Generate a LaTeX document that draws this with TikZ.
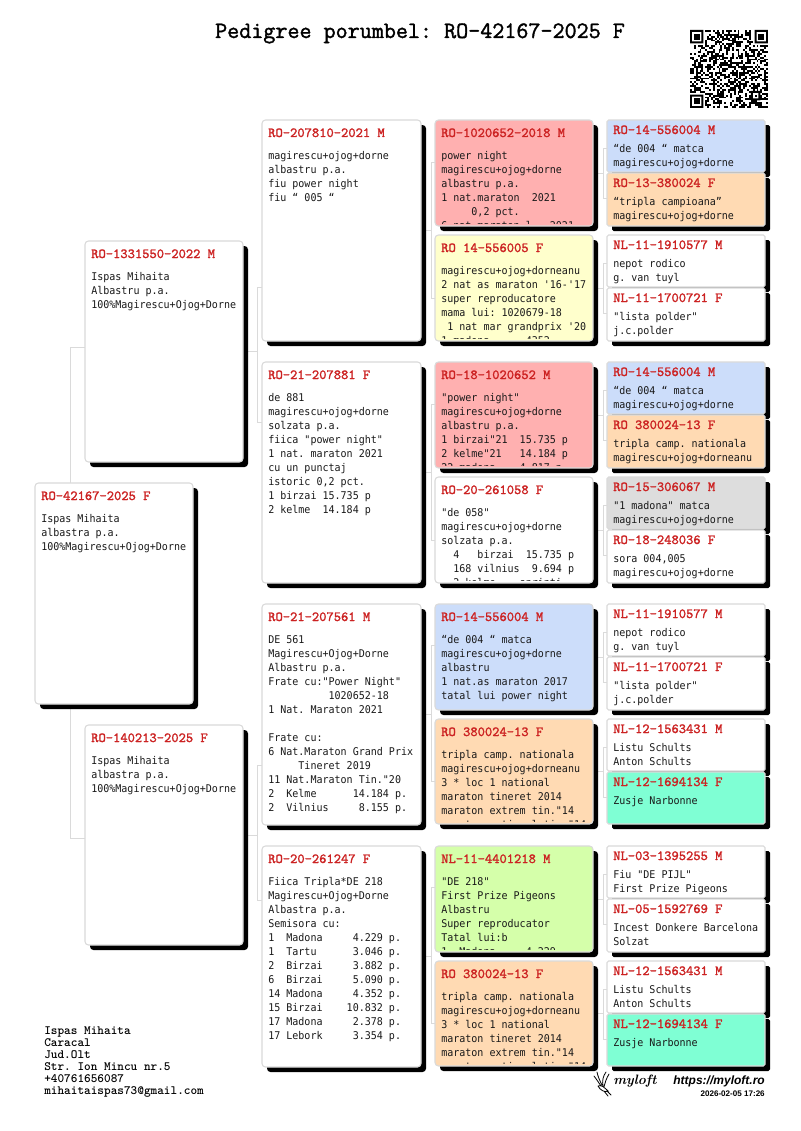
\documentclass[tikz,border=0pt]{standalone}
\usepackage{fontspec}
\usetikzlibrary{calc}
\newfontfamily\bodyf[FakeStretch=0.94]{DejaVu Sans Mono}
\newfontfamily\urlf{Liberation Sans}
\newfontfamily\slab[FakeBold=1.6]{Latin Modern Mono}
\definecolor{cPink}{HTML}{FFB0B0}
\definecolor{cYellow}{HTML}{FFFFCC}
\definecolor{cBlue}{HTML}{CCDDFA}
\definecolor{cPeach}{HTML}{FFDAB3}
\definecolor{cGrey}{HTML}{DDDDDD}
\definecolor{cMint}{HTML}{7FFFD4}
\definecolor{cGreen}{HTML}{D5FFAA}
\definecolor{cRed}{HTML}{CC2222}
\definecolor{cLine}{HTML}{DADADA}
\pgfdeclarelayer{bg}
\pgfsetlayers{bg,main}
\tikzset{
  pbox/.style={draw=cLine,line width=0.8pt,rounded corners=2.6pt,inner sep=0pt,outer sep=0pt,anchor=north west},
  shadowbox/.style={fill=black,rounded corners=2.6pt},
  ttl/.style={anchor=base west,inner sep=0pt,text=cRed,font=\fontsize{10.4}{12}\slab\selectfont},
  bodytext/.style={anchor=base west,inner sep=0pt,text=black!90,font=\fontsize{8}{10.5}\bodyf\selectfont},
  conn/.style={draw=cLine,line width=0.75pt},
}
\newcommand{\lns}[1]{\begin{tabular}[t]{@{}l@{}}#1\end{tabular}}
\newcommand{\pbox}[8]{%
  \fill[shadowbox] (#2+5,#3+5) rectangle (#4+5,#5+5);
  \node[pbox,fill=#6,minimum width={(#4-#2)*0.75pt},minimum height={(#5-#3)*0.75pt}] (#1) at (#2,#3) {};
  \begin{scope}
    \clip (#2,#3) rectangle (#4,#5-3);
    \node[ttl] (#1t) at (#2+6,#3+\ttldy) {#7};
    \node[bodytext] (#1b) at (#2+6,#3+\bodydy) {\lns{#8}};
  \end{scope}
}
\newcommand{\bigbox}{\def\ttldy{17}\def\bodydy{39}}
\newcommand{\smallbox}{\def\ttldy{14}\def\bodydy{32}}
\newcommand{\bracket}[6]{%
  \begin{pgfonlayer}{bg}
    \draw[conn] (#2.west |- 0,#5) -- (#4,#5) -- (#4,#6) -- (#3.west |- 0,#6);
    \draw[conn] (#1.east) -- (#1.east -| #4,0);
  \end{pgfonlayer}
}
\begin{document}
\frenchspacing
\begin{tikzpicture}[x=0.75pt,y=-0.75pt]
\useasboundingbox (0,0) rectangle (800,1131);
\begin{pgfonlayer}{bg}
\fill[white] (0,0) rectangle (800,1131);
\end{pgfonlayer}

\node[anchor=base,inner sep=0pt,font=\fontsize{17.55}{20}\slab\selectfont] (title) at (420,38) {Pedigree porumbel: RO-42167-2025 F};

% QR code
\pgfmathsetseed{4217}
\newcommand{\qrm}{1.902}
\foreach \i in {0,...,40}{
  \foreach \j in {0,...,40}{
    \pgfmathparse{(\i<8 && \j<8) || (\i>32 && \j<8) || (\i<8 && \j>32) ? 0 : (rnd<0.5 ? 1 : 0)}
    \ifnum\pgfmathresult=1
      \fill[black] (690+\i*\qrm,30+\j*\qrm) rectangle (690+\i*\qrm+\qrm,30+\j*\qrm+\qrm);
    \fi
  }
}
\foreach \ox/\oy in {0/0,34/0,0/34}{
  \fill[black,even odd rule] (690+\ox*\qrm,30+\oy*\qrm) rectangle ++(7*\qrm,7*\qrm)
     (690+\ox*\qrm+\qrm,30+\oy*\qrm+\qrm) rectangle ++(5*\qrm,5*\qrm);
  \fill[black] (690+\ox*\qrm+2*\qrm,30+\oy*\qrm+2*\qrm) rectangle ++(3*\qrm,3*\qrm);
}
\fill[white] (690+32*\qrm,30+32*\qrm) rectangle ++(5*\qrm,5*\qrm);
\fill[black,even odd rule] (690+32*\qrm,30+32*\qrm) rectangle ++(5*\qrm,5*\qrm)
     (690+33*\qrm,30+33*\qrm) rectangle ++(3*\qrm,3*\qrm);
\fill[black] (690+34*\qrm,30+34*\qrm) rectangle ++(\qrm,\qrm);

% generation 1 and 2
\bigbox
\pbox{root}{35}{483}{193}{704}{white}{RO-42167-2025 F}{Ispas Mihaita\\albastra p.a.\\100\%Magirescu+Ojog+Dorne}
\pbox{fa}{85}{241}{243}{462}{white}{RO-1331550-2022 M}{Ispas Mihaita\\Albastru p.a.\\100\%Magirescu+Ojog+Dorne}
\pbox{mo}{85}{725}{243}{945}{white}{RO-140213-2025 F}{Ispas Mihaita\\albastra p.a.\\100\%Magirescu+Ojog+Dorne}

% generation 3
\pbox{ff}{262}{120}{421}{341}{white}{RO-207810-2021 M}{magirescu+ojog+dorne\\albastru p.a.\\fiu power night\\fiu “ 005 “}
\pbox{fm}{262}{362}{421}{583}{white}{RO-21-207881 F}{de 881\\magirescu+ojog+dorne\\solzata p.a.\\fiica "power night"\\1 nat. maraton 2021\\cu un punctaj\\istoric 0,2 pct.\\1 birzai 15.735 p\\2 kelme~~14.184 p}
\pbox{mf}{262}{604}{421}{825}{white}{RO-21-207561 M}{DE 561\\Magirescu+Ojog+Dorne\\Albastru p.a.\\Frate cu:"Power Night"\\~~~~~~~~~~1020652-18\\1 Nat. Maraton 2021\\~\\Frate cu:\\6 Nat.Maraton Grand Prix\\~~~~~Tineret 2019\\11 Nat.Maraton Tin."20\\2~~Kelme~~~~~~14.184 p.\\2~~Vilnius~~~~~8.155 p.}
\pbox{mm}{262}{846}{421}{1067}{white}{RO-20-261247 F}{Fiica Tripla*DE 218\\Magirescu+Ojog+Dorne\\Albastra p.a.\\Semisora cu:\\1~~Madona~~~~~4.229 p.\\1~~Tartu~~~~~~3.046 p.\\2~~Birzai~~~~~3.882 p.\\6~~Birzai~~~~~5.090 p.\\14 Madona~~~~~4.352 p.\\15 Birzai~~~~10.832 p.\\17 Madona~~~~~2.378 p.\\17 Lebork~~~~~3.354 p.}

% generation 4
\pbox{fff}{435}{120}{593}{226}{cPink}{RO-1020652-2018 M}{power night\\magirescu+ojog+dorne\\albastru p.a.\\1 nat.maraton~~2021\\~~~~~0,2 pct.\\6 nat.maraton l~~~2021}
\pbox{ffm}{435}{235}{593}{341}{cYellow}{RO 14-556005 F}{magirescu+ojog+dorneanu\\2 nat as maraton '16-'17\\super reproducatore\\mama lui: 1020679-18\\~1 nat mar grandprix '20\\1 madona~~~~~~4352}
\pbox{fmf}{435}{362}{593}{468}{cPink}{RO-18-1020652 M}{"power night"\\magirescu+ojog+dorne\\albastru p.a.\\1 birzai"21~~15.735 p\\2 kelme"21~~~14.184 p\\22 madona~~~~4.817 p}
\pbox{fmm}{435}{477}{593}{583}{white}{RO-20-261058 F}{"de 058"\\magirescu+ojog+dorne\\solzata p.a.\\~~4~~~birzai~~15.735 p\\~~168 vilnius~~9.694 p\\~~2 kelme~~~~sprinti}
\pbox{mff}{435}{604}{593}{710}{cBlue}{RO-14-556004 M}{“de 004 “ matca\\magirescu+ojog+dorne\\albastru\\1 nat.as maraton 2017\\tatal lui power night}
\pbox{mfm}{435}{719}{593}{824}{cPeach}{RO 380024-13 F}{tripla camp. nationala\\magirescu+ojog+dorneanu\\3 * loc 1 national\\maraton tineret 2014\\maraton extrem tin."14\\maraton national tin."14}
\pbox{mmf}{435}{846}{593}{952}{cGreen}{NL-11-4401218 M}{"DE 218"\\First Prize Pigeons\\Albastru\\Super reproducator\\Tatal lui:b\\1~~Madona~~~~~4.229}
\pbox{mmm}{435}{961}{593}{1066}{cPeach}{RO 380024-13 F}{tripla camp. nationala\\magirescu+ojog+dorneanu\\3 * loc 1 national\\maraton tineret 2014\\maraton extrem tin."14\\maraton national tin."14}

% generation 5
\smallbox
\tikzset{pbox/.append style={rounded corners=1.2pt},shadowbox/.append style={rounded corners=1.2pt}}
\pbox{a1}{607}{120}{765}{172}{cBlue}{RO-14-556004 M}{“de 004 “ matca\\magirescu+ojog+dorne}
\pbox{a2}{607}{173}{765}{226}{cPeach}{RO-13-380024 F}{“tripla campioana”\\magirescu+ojog+dorne}
\pbox{a3}{607}{235}{765}{287}{white}{NL-11-1910577 M}{nepot rodico\\g. van tuyl}
\pbox{a4}{607}{288}{765}{341}{white}{NL-11-1700721 F}{"lista polder"\\j.c.polder}
\pbox{a5}{607}{362}{765}{414}{cBlue}{RO-14-556004 M}{“de 004 “ matca\\magirescu+ojog+dorne}
\pbox{a6}{607}{415}{765}{468}{cPeach}{RO 380024-13 F}{tripla camp. nationala\\magirescu+ojog+dorneanu}
\pbox{a7}{607}{477}{765}{529}{cGrey}{RO-15-306067 M}{"1 madona" matca\\magirescu+ojog+dorne}
\pbox{a8}{607}{530}{765}{583}{white}{RO-18-248036 F}{sora 004,005\\magirescu+ojog+dorne}
\pbox{a9}{607}{604}{765}{656}{white}{NL-11-1910577 M}{nepot rodico\\g. van tuyl}
\pbox{a10}{607}{657}{765}{710}{white}{NL-11-1700721 F}{"lista polder"\\j.c.polder}
\pbox{a11}{607}{719}{765}{771}{white}{NL-12-1563431 M}{Listu Schults\\Anton Schults}
\pbox{a12}{607}{772}{765}{824}{cMint}{NL-12-1694134 F}{Zusje Narbonne}
\pbox{a13}{607}{846}{765}{898}{white}{NL-03-1395255 M}{Fiu "DE PIJL"\\First Prize Pigeons}
\pbox{a14}{607}{899}{765}{952}{white}{NL-05-1592769 F}{Incest Donkere Barcelona\\Solzat}
\pbox{a15}{607}{961}{765}{1013}{white}{NL-12-1563431 M}{Listu Schults\\Anton Schults}
\pbox{a16}{607}{1014}{765}{1066}{cMint}{NL-12-1694134 F}{Zusje Narbonne}

% connectors
\begin{pgfonlayer}{bg}
  \draw[conn] (fa.west |- 0,347) -- (70,347) -- (70,838) -- (mo.west |- 0,838);
\end{pgfonlayer}
\bracket{fa}{ff}{fm}{257}{287}{422}
\bracket{mo}{mf}{mm}{257}{765}{900}
\bracket{ff}{fff}{ffm}{431}{162}{298}
\bracket{fm}{fmf}{fmm}{431}{404}{540}
\bracket{mf}{mff}{mfm}{431}{645}{781}
\bracket{mm}{mmf}{mmm}{431}{887}{1023}
\bracket{fff}{a1}{a2}{603}{148}{198}
\bracket{ffm}{a3}{a4}{603}{263}{313}
\bracket{fmf}{a5}{a6}{603}{390}{440}
\bracket{fmm}{a7}{a8}{603}{505}{555}
\bracket{mff}{a9}{a10}{603}{632}{682}
\bracket{mfm}{a11}{a12}{603}{747}{797}
\bracket{mmf}{a13}{a14}{603}{874}{924}
\bracket{mmm}{a15}{a16}{603}{989}{1039}

% address
\node[anchor=base west,inner sep=0pt,align=left,font=\fontsize{9.5}{9}\ttfamily\bfseries\selectfont] (addr) at (44,1034.5)
  {\begin{tabular}[t]{@{}l@{}}Ispas Mihaita\\Caracal\\Jud.Olt\\Str. Ion Mincu nr.5\\+40761656087\\mihaitaispas73@gmail.com\end{tabular}};

% logo
\draw[line width=0.6pt,line cap=round] (594,1076) .. controls (597,1080) and (599,1083) .. (601,1086)
  (597,1072) .. controls (598,1077) and (600,1081) .. (602,1085)
  (606,1072) .. controls (603,1076) and (602,1081) .. (603,1086)
  (609,1074) .. controls (606,1079) and (605,1083) .. (604,1087)
  (598,1086) .. controls (601,1084) and (605,1088) .. (608,1091) .. controls (605,1093) and (600,1090) .. (598,1086)
  (604,1091) -- (608,1096) (607,1091) -- (611,1095);
\node[anchor=base west,inner sep=0pt,font=\fontsize{10.2}{12}\itshape\bfseries\selectfont] (logo) at (613,1084) {myloft};
\node[anchor=base east,inner sep=0pt,font=\fontsize{9}{11}\urlf\bfseries\itshape\selectfont] (url) at (765,1084) {https://myloft.ro};
\node[anchor=base east,inner sep=0pt,font=\fontsize{6.05}{7}\urlf\bfseries\selectfont] (stamp) at (765,1096) {2026-02-05 17:26};
\end{tikzpicture}
\end{document}
